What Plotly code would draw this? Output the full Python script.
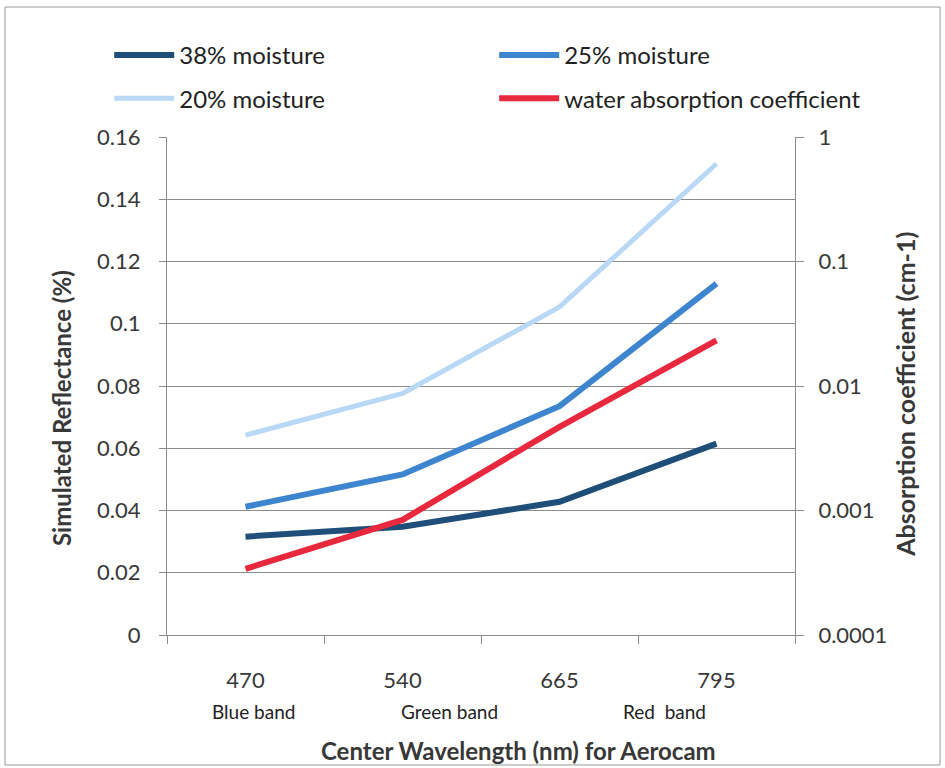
import plotly.graph_objects as go

wavelengths = ["470", "540", "665", "795"]
moist_38 = [0.0316, 0.0348, 0.0428, 0.0615]
moist_25 = [0.0412, 0.0516, 0.0735, 0.1129]
moist_20 = [0.0642, 0.0776, 0.1054, 0.1514]
water_abs = [3.4e-4, 8.4e-4, 4.7e-3, 0.0233]

band_labels = ["Blue band", "Green band", "Red  band"]
band_pos = [0.05, 1.3, 2.67]

left_ticks = [0, 0.02, 0.04, 0.06, 0.08, 0.1, 0.12, 0.14, 0.16]
left_ticktext = ["0", "0.02", "0.04", "0.06", "0.08", "0.1", "0.12", "0.14", "0.16"]
right_ticks = [0.0001, 0.001, 0.01, 0.1, 1]
right_ticktext = ["0.0001", "0.001", "0.01", "0.1", "1"]

FONT = "Lato"
TXT = "#383838"
GRID = "#8c8c8c"

fig = go.Figure()
fig.add_trace(go.Scatter(x=wavelengths, y=moist_38, name="38% moisture", mode="lines",
                         line=dict(color="#1F4E79", width=6), legend="legend", legendgroup="a"))
fig.add_trace(go.Scatter(x=wavelengths, y=moist_25, name="25% moisture", mode="lines",
                         line=dict(color="#3E85CF", width=6), legend="legend2", legendgroup="b"))
fig.add_trace(go.Scatter(x=wavelengths, y=moist_20, name="20% moisture", mode="lines",
                         line=dict(color="#B9D8F6", width=5), legend="legend", legendgroup="c"))
fig.add_trace(go.Scatter(x=wavelengths, y=water_abs, name="water absorption coefficient", mode="lines",
                         line=dict(color="#E8283C", width=6), yaxis="y2", legend="legend2", legendgroup="d"))

for lab, pos in zip(band_labels, band_pos):
    fig.add_annotation(x=pos, y=0, xref="x", yref="paper", yanchor="middle", yshift=-76, text=lab,
                       showarrow=False, font=dict(family=FONT, size=19, color="#222222"))

fig.add_annotation(x=0.56, y=-0.231, xref="paper", yref="paper", yanchor="middle",
                   text="<b>Center Wavelength (nm) for Aerocam</b>",
                   showarrow=False, font=dict(family=FONT, size=24, color=TXT))
fig.add_annotation(x=-0.167, y=0.456, xref="paper", yref="paper", textangle=-90,
                   xanchor="center", yanchor="middle",
                   text="<b>Simulated Reflectance (%)</b>",
                   showarrow=False, font=dict(family=FONT, size=24, color=TXT))
fig.add_annotation(x=1.175, y=0.484, xref="paper", yref="paper", textangle=-90,
                   xanchor="center", yanchor="middle",
                   text="<b>Absorption coefficient (cm-1)</b>",
                   showarrow=False, font=dict(family=FONT, size=25, color=TXT))

fig.add_shape(type="rect", xref="paper", yref="paper", x0=-0.258, x1=1.231, y0=-0.261, y1=1.261,
              line=dict(color="#9a9a9a", width=1))

legend_common = dict(orientation="v", yanchor="top", xanchor="left", itemwidth=60,
                     tracegroupgap=9, bgcolor="rgba(0,0,0,0)",
                     font=dict(family=FONT, size=24, color="#222222"))

fig.update_layout(
    width=945, height=768,
    margin=dict(l=167, r=150, t=137, b=133),
    paper_bgcolor="white", plot_bgcolor="white",
    font=dict(family=FONT, color=TXT),
    showlegend=True,
    legend=dict(x=-0.092, y=1.209, **legend_common),
    legend2=dict(x=0.521, y=1.209, **legend_common),
    xaxis=dict(type="category", range=[-0.5, 3.5], showgrid=False,
               showline=True, linecolor=GRID, linewidth=1,
               ticks="outside", tickson="boundaries", ticklen=8, tickcolor=GRID,
               ticklabelstandoff=26,
               tickfont=dict(family=FONT, size=22, color=TXT)),
    yaxis=dict(range=[0, 0.16], tickvals=left_ticks, ticktext=left_ticktext,
               showgrid=True, gridcolor=GRID, gridwidth=1,
               showline=True, linecolor=GRID, linewidth=1,
               ticks="outside", ticklen=7, tickcolor=GRID, ticklabelstandoff=14,
               tickfont=dict(family=FONT, size=22, color=TXT),
               zeroline=False),
    yaxis2=dict(type="log", range=[-4, 0], overlaying="y", side="right",
                tickvals=right_ticks, ticktext=right_ticktext,
                showgrid=False, showline=True, linecolor=GRID, linewidth=1,
                ticks="outside", ticklen=8, tickcolor=GRID, ticklabelstandoff=10,
                tickfont=dict(family=FONT, size=22, color=TXT)),
)

fig.write_html("out.html")
